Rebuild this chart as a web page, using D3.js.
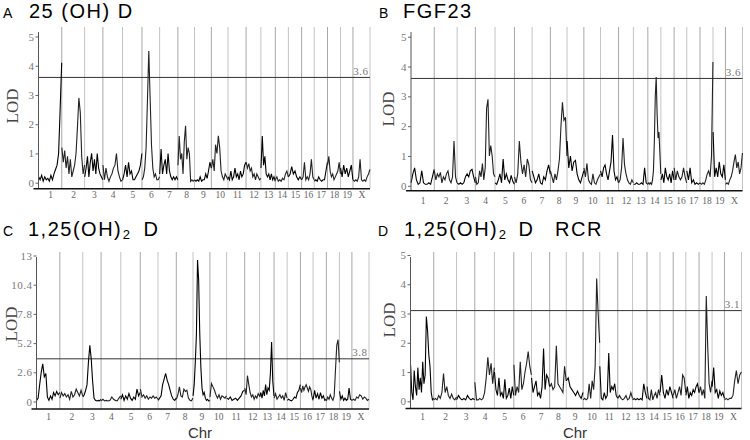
<!DOCTYPE html>
<html>
<head>
<meta charset="utf-8">
<script src="https://cdn.jsdelivr.net/npm/d3@7"></script>
<style>
  body { margin: 0; background: #fff; }
  svg { display: block; }
</style>
</head>
<body>
<svg id="chart" width="750" height="440"></svg>
<script>
// chromosome names and (approximate) genetic lengths, cM
const chromosomes = ['1','2','3','4','5','6','7','8','9','10','11','12','13','14','15','16','17','18','19','X'];
const chrLengths = [116, 114, 91, 98, 97, 88, 91, 83, 84, 83, 90, 74, 72, 65, 66, 63, 66, 65, 62, 85];

const yTicks5 = [0, 1, 2, 3, 4, 5];
const yTicks13 = [0, 2.6, 5.2, 7.8, 10.4, 13];
const thresholds = [3.6, 3.6, 3.8, 3.1];

// LOD profiles, one array per chromosome (evenly spaced along it)
const lodA = [
  [0.2,0.1,0.25,0.05,0.2,0.1,0.15,0.05,0.25,0.1,0.3,0.45,0.6,1.0,2.5,4.1],
  [1.2,0.7,1.1,0.5,0.9,0.3,0.8,0.2,0.4,0.6,1.0,1.9,2.9,2.4,0.9,0.3,0.6],
  [0.2,0.5,0.9,0.2,0.7,1.0,0.4,0.8,0.3,1.0,0.5,0.3,0.2,0.1],
  [0.6,0.1,0.5,0.2,0.05,0.2,0.3,0.5,0.6,1.0,0.4,0.2,0.05,0.1],
  [0.1,0.3,0.6,0.2,0.7,0.3,0.4,0.1,0.1,0.2,0.3,0.4,0.6,1.0],
  [0.1,0.2,0.5,1.2,2.8,4.5,2.9,1.3,0.5,0.2,0.3,0.1,0.1,0.2],
  [0.3,1.15,0.3,0.6,0.8,0.3,1.0,0.4,0.2,0.1,0.2,0.1,0.2,0.1],
  [0.6,1.6,0.8,1.0,0.3,1.4,1.95,0.8,1.2,1.0,0.05,0.1,0.05,0.1],
  [0.1,0.05,0.1,0.05,0.2,0.05,0.1,0.1,0.3,0.15,0.4,0.7,0.5],
  [0.5,0.8,0.4,1.3,1.0,1.6,1.2,0.4,0.2,0.1,0.3,0.2,0.1],
  [0.2,0.1,0.4,0.1,0.2,0.5,0.2,0.3,0.1,0.4,0.2,0.3,0.6,0.7],
  [0.7,0.5,0.65,0.4,0.5,0.2,0.3,0.1,0.3,0.2,0.1,0.15],
  [0.5,1.6,0.6,0.9,0.3,0.2,0.3,0.1,0.3,0.1,0.2,0.05],
  [0.1,0.2,0.05,0.1,0.05,0.15,0.1,0.3,0.4,0.2],
  [0.2,0.3,0.55,0.3,0.4,0.2,0.1,0.2,0.1],
  [0.1,0.2,0.7,0.1,0.2,0.1,0.3,0.8,0.2,0.1],
  [0.05,0.1,0.05,0.2,0.1,0.05,0.1,0.1,0.4,0.7],
  [0.6,0.9,0.4,0.2,0.3,0.1,0.2,0.3,0.4,0.7,0.3],
  [0.5,0.2,0.6,0.3,0.5,0.2,0.4,0.6,0.1],
  [0.1,0.05,0.1,0.05,0.2,0.8,0.1,0.05,0.1,0.05,0.2,0.3,0.45]
];

const lodB = [
  [0.1,0.4,0.6,0.2,0.05,0.1,0.5,0.1,0.05,0.05,0.1,0.05,0.3,0.55],
  [0.5,0.2,0.4,0.3,0.45,0.1,0.3,0.2,0.4,0.5,0.2,0.1,0.3,1.5,0.3,0.1],
  [0.1,0.05,0.1,0.05,0.1,0.3,0.4,0.3,0.5,0.55,0.3,0.1],
  [0.3,0.05,0.1,0.5,0.3,0.75,0.2,0.6,2.6,2.9,1.0,1.35,1.0,0.4,0.3],
  [0.1,0.05,0.2,0.4,0.1,0.9,0.2,0.4,0.2,0.1,0.35,0.15,0.05],
  [0.3,0.1,0.4,1.5,0.8,0.4,0.7,0.3,0.9,0.7,0.2,0.1],
  [0.5,0.3,0.1,0.2,0.4,0.1,0.05,0.3,0.2,0.5,0.7,0.4],
  [0.5,0.3,0.1,0.4,0.2,0.5,0.9,2.0,2.8,2.2,2.3,1.0],
  [1.5,0.6,1.0,0.5,0.8,0.85,0.4,0.2,0.1,0.3,0.5],
  [0.6,0.3,0.75,0.2,0.1,0.05,0.4,0.1,0.05,0.2,0.3,0.4],
  [0.5,0.3,0.6,0.7,0.4,0.2,0.5,0.8,1.7,0.5,0.2,0.3,0.1],
  [0.1,0.2,0.6,1.6,0.7,0.4,0.2,0.1,0.05,0.2,0.1],
  [0.05,0.05,0.1,0.05,0.05,0.1,0.05,0.6,0.1,0.05],
  [0.05,0.1,0.05,0.1,0.05,0.2,0.5,1.5,3.0,3.65,2.4,1.6,1.8,1.1,0.4],
  [0.2,0.4,0.1,0.6,0.3,0.2,0.4,0.1,0.5,0.2],
  [0.6,0.2,0.5,0.3,0.2,0.3,0.6,0.3,0.1],
  [0.5,0.2,0.6,0.1,0.2,0.05,0.1,0.05,0.1],
  [0.1,0.05,0.1,0.05,0.2,0.4,0.5,0.3,1.0,4.15],
  [1.8,0.3,0.6,0.3,0.8,0.4,0.3,0.7,0.2],
  [0.05,0.1,0.05,0.2,0.3,0.5,0.8,1.05,0.6,0.8,0.4,0.6,1.1]
];

const lodC = [
  [0.1,0.3,1.5,2.6,3.35,2.2,2.5,0.4,0.1,0.5,0.2,0.8,0.5,0.9,0.6,0.8],
  [0.3,0.8,0.5,0.7,0.4,0.6,0.2,0.9,0.4,0.6,1.1,0.8,0.5,1.0,0.5],
  [0.4,0.6,1.0,1.5,3.5,5.0,3.8,1.8,0.3,0.1,0.05,0.1,0.05,0.2],
  [0.05,0.2,0.05,0.1,0.05,0.1,0.4,0.2,0.1,0.05,0.3,0.5],
  [0.2,0.6,0.1,0.5,0.2,0.7,0.3,0.1,0.4,0.2,1.1,0.5,0.8],
  [1.1,0.4,0.6,0.3,0.5,0.2,0.4,0.3,0.5,0.3,0.4,0.2],
  [0.1,0.3,0.5,1.5,2.0,2.5,1.9,1.5,1.0,0.5,0.2,0.1,0.3],
  [0.2,0.6,1.3,0.5,0.4,1.1,0.9,1.0,0.3,0.1,0.05,0.3],
  [0.5,1.5,3.5,6.0,12.6,10.8,6.0,3.0,1.2,0.6,0.8,0.3,0.1,0.2,0.05,0.1],
  [0.4,1.6,1.3,1.0,0.6,0.3,0.6,0.2,0.5,0.4,0.3,0.5],
  [0.3,0.2,0.4,0.1,0.2,0.3,0.1,0.3,0.5,0.9,1.0],
  [1.2,0.6,2.3,1.5,0.8,0.4,0.6,0.2,0.5,0.3,0.7,0.5],
  [0.4,0.8,0.3,1.0,0.5,1.5,0.6,1.2,1.0,2.5,5.3,1.8,0.5],
  [0.3,0.7,0.2,0.4,0.6,0.3,0.5,0.1,0.8,0.3],
  [0.1,0.2,0.1,0.05,0.2,0.4,0.3,0.8,1.0,1.5],
  [1.2,0.8,1.4,1.0,1.3,1.5,1.2,0.9,1.3,1.1,0.5,0.1],
  [0.2,1.0,0.3,0.7,0.2,0.8,0.3,0.5,0.1,0.2],
  [0.05,0.4,0.2,0.6,0.3,0.1,0.5,2.8,5.0,5.5,3.5],
  [0.9,0.2,0.5,0.1,0.3,0.1,0.2,1.2,0.2,0.1],
  [0.1,0.2,0.1,0.4,0.3,0.6,0.5,0.2,0.4,0.3,0.1,0.2]
];

const lodD = [
  [1.25,0.3,0.05,1.05,0.5,0.2,1.15,0.4,0.8,0.3,1.35,0.6,0.9,2.9,2.4,1.6,1.2,0.3,0.05,0.1],
  [0.05,0.1,0.05,0.2,0.1,0.3,0.95,0.3,0.5,0.2,0.1,0.25,0.1,0.05,0.15],
  [0.05,0.2,0.1,0.05,0.1,0.05,0.2,0.1,0.05,0.1,0.05],
  [0.65,0.05,0.05,0.1,0.05,0.1,0.3,0.8,1.5,0.9,1.3,0.6,1.15],
  [1.0,0.4,0.2,0.8,0.2,0.3,0.1,0.75,0.1,0.2,0.45,0.1,0.5,0.2],
  [1.25,0.2,0.5,0.3,1.35,0.4,0.6,1.0,1.3,1.7,1.2,0.9],
  [0.8,0.3,0.5,0.7,0.2,0.3,0.1,0.5,1.8,0.4,0.9,0.8,0.5],
  [0.5,0.6,0.4,0.5,1.9,0.6,0.5,0.4,0.3,1.2,0.7],
  [0.7,0.8,0.5,0.4,0.3,0.2,0.35,0.2,0.1,0.3],
  [0.05,0.1,0.05,0.1,0.6,0.1,0.7,0.4,1.2,4.2,3.0,2.0],
  [1.2,0.1,0.05,0.3,0.1,0.2,1.65,0.3,0.5,0.4,0.6,0.2,0.1],
  [0.1,0.2,0.1,0.05,0.1,0.2,0.05,0.1,0.3,0.1],
  [0.05,0.1,0.05,0.1,0.05,0.1,0.05,0.6,0.3,0.1],
  [0.5,0.1,0.05,0.4,0.05,0.2,0.3,0.1,0.4,0.2],
  [0.3,0.9,0.3,0.1,0.4,0.2,0.5,0.3,0.1],
  [0.2,0.4,0.1,0.3,0.5,0.2,0.9,0.8,0.3],
  [0.2,0.5,0.1,0.3,0.2,0.4,0.3,0.5,0.6,0.3],
  [0.3,0.5,0.2,0.4,0.1,3.6,1.9,0.6,0.3,0.7],
  [0.5,1.15,0.3,0.4,0.1,0.35,0.2,0.3,0.1],
  [0.05,0.1,0.05,0.1,0.1,0.2,0.7,1.05,0.6,0.9,1.0]
];

// panel layout
const panels = [
  {letter: 'A', lod: lodA, thr: thresholds[0], ticks: yTicks5,
   x0: 38.5, x1: 370, y0: 182.7, yTop: 36.5, axisY: 188.7, gridTop: 27, labelY: 198.5,
   letterX: 3, titleY: 17.5, title: [{t: '25 (OH) D', x: 29}], lodX: 18.3, lodY: 106},
  {letter: 'B', lod: lodB, thr: thresholds[1], ticks: yTicks5,
   x0: 411, x1: 742.5, y0: 185.8, yTop: 36.7, axisY: 190.7, gridTop: 27, labelY: 204,
   letterX: 379, titleY: 17.5, title: [{t: 'FGF23', x: 403}], lodX: 394, lodY: 109},
  {letter: 'C', lod: lodC, thr: thresholds[2], ticks: yTicks13,
   x0: 36.5, x1: 369, y0: 401.5, yTop: 255.5, axisY: 409, gridTop: 252, labelY: 420,
   letterX: 3, titleY: 236, title: [{t: '1,25(OH)', x: 28}, {t: '2', sub: true}, {t: 'D', x: 143.5}],
   lodX: 16.7, lodY: 324, chrX: 200},
  {letter: 'D', lod: lodD, thr: thresholds[3], ticks: yTicks5,
   x0: 410.5, x1: 741.5, y0: 401.3, yTop: 255, axisY: 408.5, gridTop: 252, labelY: 420,
   letterX: 378, titleY: 236, title: [{t: '1,25(OH)', x: 404}, {t: '2', sub: true}, {t: 'D', x: 518.5}, {t: 'RCR', x: 555}],
   lodX: 395, lodY: 320, chrX: 575}
];

const serif = '"Liberation Serif", "Times New Roman", serif';
const sans = '"Liberation Sans", Arial, sans-serif';

const svg = d3.select('#chart');

// cumulative chromosome starts
const chrStarts = [];
chrLengths.reduce((acc, len, i) => { chrStarts[i] = acc; return acc + len; }, 0);
const totalLen = d3.sum(chrLengths);

panels.forEach(function(p){
  const yMax = p.ticks[p.ticks.length - 1];
  const x = d3.scaleLinear().domain([0, totalLen]).range([p.x0, p.x1]);
  const y = d3.scaleLinear().domain([0, yMax]).range([p.y0, p.yTop]);
  const g = svg.append('g');

  // chromosome boundaries
  g.selectAll('line.chr')
    .data(chrStarts.slice(1).concat([totalLen]))
    .enter().append('line')
    .attr('x1', d => x(d)).attr('x2', d => x(d))
    .attr('y1', p.gridTop).attr('y2', p.axisY)
    .attr('stroke', (d, i) => i % 2 ? '#c4c4c4' : '#a8a8a8').attr('stroke-width', 1);

  // threshold
  g.append('line')
    .attr('x1', p.x0).attr('x2', p.x1)
    .attr('y1', y(p.thr)).attr('y2', y(p.thr))
    .attr('stroke', '#333').attr('stroke-width', 1);
  g.append('text')
    .attr('x', p.x1 - 1.5).attr('y', y(p.thr) - 2.5)
    .attr('text-anchor', 'end')
    .attr('font-family', serif).attr('font-size', 11).attr('letter-spacing', 0.5)
    .attr('fill', '#777')
    .text(p.thr.toFixed(1));

  // LOD curves, one path per chromosome
  const line = d3.line().x(d => x(d[0])).y(d => y(d[1]));
  p.lod.forEach(function(vals, i){
    const s = chrStarts[i] + 0.4, len = chrLengths[i] - 0.8;
    const pts = vals.map((v, j) => [s + len * j / (vals.length - 1), v]);
    g.append('path')
      .datum(pts)
      .attr('d', line)
      .attr('fill', 'none')
      .attr('stroke', i % 2 ? '#222' : '#000')
      .attr('stroke-width', 1.1)
      .attr('stroke-linejoin', 'miter');
  });

  // y axis
  const yAxis = g.append('g')
    .attr('transform', 'translate(' + p.x0 + ',0)')
    .call(d3.axisLeft(y).tickValues(p.ticks).tickSize(3).tickPadding(1)
      .tickFormat(d => String(d)));
  yAxis.select('.domain').remove();
  yAxis.selectAll('line').attr('stroke', '#666');
  yAxis.selectAll('text')
    .attr('font-family', serif).attr('font-size', 11).attr('letter-spacing', 0.5)
    .attr('fill', '#777');
  g.append('line')
    .attr('x1', p.x0).attr('x2', p.x0)
    .attr('y1', p.gridTop + 5).attr('y2', p.axisY)
    .attr('stroke', '#555').attr('stroke-width', 1);

  // x axis with chromosome labels
  const mids = chrStarts.map((s, i) => s + chrLengths[i] / 2);
  const xAxis = g.append('g')
    .attr('transform', 'translate(0,' + p.axisY + ')')
    .call(d3.axisBottom(x).tickValues(mids).tickSize(0).tickPadding(0)
      .tickFormat((d, i) => chromosomes[i]));
  xAxis.select('.domain').remove();
  xAxis.selectAll('text')
    .attr('dy', null).attr('y', p.labelY - p.axisY)
    .attr('font-family', serif).attr('font-size', 9.5)
    .attr('fill', '#666');
  g.append('line')
    .attr('x1', p.x0 - 5).attr('x2', p.x1)
    .attr('y1', p.axisY).attr('y2', p.axisY)
    .attr('stroke', '#111').attr('stroke-width', 1.5);

  // LOD label
  g.append('text')
    .attr('transform', 'translate(' + p.lodX + ',' + p.lodY + ') rotate(-90)')
    .attr('text-anchor', 'middle')
    .attr('font-family', serif).attr('font-size', 17)
    .attr('fill', '#444')
    .text('LOD');

  // Chr label
  if (p.chrX) {
    g.append('text')
      .attr('x', p.chrX).attr('y', 438)
      .attr('text-anchor', 'middle')
      .attr('font-family', sans).attr('font-size', 15)
      .attr('fill', '#333')
      .text('Chr');
  }

  // title
  g.append('text')
    .attr('x', p.letterX).attr('y', p.titleY)
    .attr('font-family', sans).attr('font-size', 14)
    .text(p.letter);
  const title = g.append('text')
    .attr('y', p.titleY)
    .attr('font-family', sans).attr('font-size', 20).attr('letter-spacing', 1.5);
  p.title.forEach(function(part){
    const ts = title.append('tspan').text(part.t);
    if (part.x !== undefined) ts.attr('x', part.x);
    if (part.sub) ts.attr('font-size', 13).attr('letter-spacing', 0).attr('dx', 0.5).attr('y', p.titleY + 2.5);
    else ts.attr('y', p.titleY);
  });
});
</script>
</body>
</html>
